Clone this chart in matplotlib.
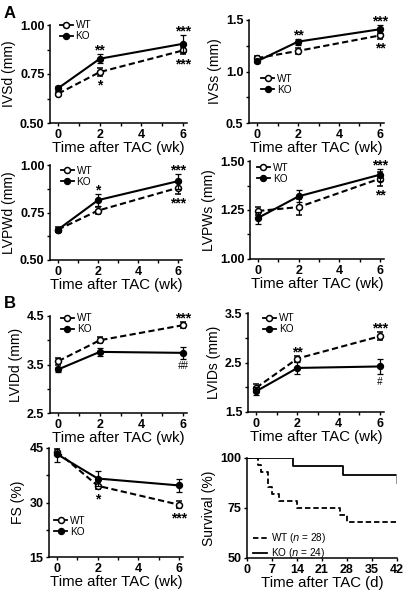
import numpy as np
import matplotlib
matplotlib.use("Agg")
import matplotlib.pyplot as plt
from matplotlib.ticker import MultipleLocator
from matplotlib.lines import Line2D

plt.rcParams['font.family'] = ['Liberation Sans', 'DejaVu Sans']
plt.rcParams['axes.linewidth'] = 1.1
plt.rcParams['xtick.major.width'] = 1.0
plt.rcParams['ytick.major.width'] = 1.0
plt.rcParams['xtick.minor.width'] = 1.0
plt.rcParams['ytick.minor.width'] = 1.0
plt.rcParams['xtick.major.size'] = 2.5
plt.rcParams['ytick.major.size'] = 2.5
plt.rcParams['xtick.minor.size'] = 2.0
plt.rcParams['ytick.minor.size'] = 2.0

# semanas despues de TAC
weeks = [0, 2, 6]

# valores (media) y error por parametro
ivsd_wt = [0.65, 0.76, 0.87]
ivsd_wt_err = [0.008, 0.02, 0.02]
ivsd_ko = [0.678, 0.828, 0.904]
ivsd_ko_err = [0.01, 0.023, 0.043]

ivss_wt = [1.13, 1.20, 1.35]
ivss_wt_err = [0.02, 0.03, 0.03]
ivss_ko = [1.10, 1.29, 1.41]
ivss_ko_err = [0.02, 0.03, 0.04]

lvpwd_wt = [0.66, 0.76, 0.88]
lvpwd_wt_err = [0.015, 0.02, 0.03]
lvpwd_ko = [0.66, 0.815, 0.915]
lvpwd_ko_err = [0.01, 0.03, 0.04]

lvpws_wt = [1.245, 1.265, 1.41]
lvpws_wt_err = [0.02, 0.04, 0.035]
lvpws_ko = [1.21, 1.32, 1.43]
lvpws_ko_err = [0.03, 0.03, 0.03]

lvidd_wt = [3.57, 4.00, 4.31]
lvidd_wt_err = [0.07, 0.06, 0.06]
lvidd_ko = [3.40, 3.76, 3.74]
lvidd_ko_err = [0.05, 0.08, 0.12]

lvids_wt = [1.99, 2.58, 3.03]
lvids_wt_err = [0.08, 0.06, 0.08]
lvids_ko = [1.92, 2.39, 2.42]
lvids_ko_err = [0.08, 0.12, 0.15]

fs_wt = [44.0, 34.6, 29.4]
fs_wt_err = [0.8, 1.0, 1.0]
fs_ko = [43.3, 36.6, 34.7]
fs_ko_err = [2.1, 2.0, 1.9]

# marcas de significancia: (semana, grupo, texto, arriba/abajo)
ivsd_sig = [(2, 'KO', '**', 'up'), (2, 'WT', '*', 'down'), (6, 'KO', '***', 'up'), (6, 'WT', '***', 'down')]
ivss_sig = [(2, 'KO', '**', 'up'), (6, 'KO', '***', 'up'), (6, 'WT', '**', 'down')]
lvpwd_sig = [(2, 'KO', '*', 'up'), (6, 'KO', '***', 'up'), (6, 'WT', '***', 'down')]
lvpws_sig = [(6, 'KO', '***', 'up'), (6, 'WT', '**', 'down')]
lvidd_sig = [(6, 'WT', '***', 'up'), (6, 'KO', '##', 'down')]
lvids_sig = [(2, 'WT', '**', 'up'), (6, 'WT', '***', 'up'), (6, 'KO', '#', 'down')]
fs_sig = [(2, 'WT', '*', 'down'), (6, 'WT', '***', 'down')]

# supervivencia (Kaplan-Meier, pasos)
surv_wt_days = [0, 3, 4, 6, 7, 9, 14, 26, 28, 42]
surv_wt = [100, 96.4, 92.9, 85.7, 82.1, 78.6, 75.0, 71.4, 67.9, 67.9]
surv_ko_days = [0, 13, 27, 42]
surv_ko = [100, 95.8, 91.7, 87.5]

fig = plt.figure(figsize=(4.05, 5.91), dpi=100)

TICK_FS = 9
YLAB_FS = 10
XLAB_FS = 10.8
LEG_FS = 7.2

WT_STYLE = dict(color='black', lw=1.5, linestyle=(0, (3, 1.6)), marker='o', ms=4.3,
                mfc='white', mec='black', mew=1.1)
KO_STYLE = dict(color='black', lw=1.5, linestyle='-', marker='o', ms=4.3,
                mfc='black', mec='black')


def px_axes(x0, y0, x1, y1):
    W, H = 405.0, 591.0
    return fig.add_axes([x0 / W, 1 - y1 / H, (x1 - x0) / W, (y1 - y0) / H])


def style_axes(ax):
    ax.spines['top'].set_visible(False)
    ax.spines['right'].set_visible(False)
    for lab in ax.get_xticklabels() + ax.get_yticklabels():
        lab.set_fontweight('bold')
        lab.set_fontsize(TICK_FS)
    ax.tick_params(axis='both', which='both', direction='out', pad=1.5)


def line_panel(ax, wt, wt_err, ko, ko_err, ylim, yticks, yfmt, ylabel, sig, leg_pos, ymin_step):
    ax.errorbar(weeks, wt, yerr=wt_err, capsize=2.2, elinewidth=0.9, capthick=0.9,
                ecolor='black', zorder=3, **WT_STYLE)
    ax.errorbar(weeks, ko, yerr=ko_err, capsize=2.2, elinewidth=0.9, capthick=0.9,
                ecolor='black', zorder=4, **KO_STYLE)
    ax.set_xlim(-0.4, 6.2)
    ax.set_ylim(*ylim)
    ax.set_xticks([0, 2, 4, 6])
    ax.xaxis.set_minor_locator(MultipleLocator(1))
    ax.set_yticks(yticks)
    ax.yaxis.set_minor_locator(MultipleLocator(ymin_step))
    ax.set_yticklabels([yfmt % v for v in yticks])
    ax.set_ylabel(ylabel, fontsize=YLAB_FS, labelpad=3)
    ax.set_xlabel('Time after TAC (wk)', fontsize=XLAB_FS, labelpad=0.5)
    style_axes(ax)
    for wk, grp, txt, where in sig:
        i = weeks.index(wk)
        if grp == 'WT':
            y, e = wt[i], wt_err[i]
        else:
            y, e = ko[i], ko_err[i]
        hash_mark = '#' in txt
        italic = 'italic' if hash_mark else 'normal'
        weight = 'normal' if hash_mark else 'bold'
        size = 7 if hash_mark else 10
        if where == 'up':
            ax.annotate(txt, (wk, y + e), xytext=(0, -2.5), textcoords='offset points',
                        ha='center', va='bottom', fontsize=size, fontweight=weight, style=italic)
        else:
            ax.annotate(txt, (wk, y - e), xytext=(0, -2.0), textcoords='offset points',
                        ha='center', va='top', fontsize=size, fontweight=weight, style=italic)
    handles = [Line2D([], [], **dict(WT_STYLE, linestyle='-', lw=1.3)),
               Line2D([], [], **dict(KO_STYLE, lw=1.3))]
    ax.legend(handles, ['WT', 'KO'], loc='upper left', bbox_to_anchor=leg_pos, frameon=False,
              fontsize=LEG_FS, handlelength=1.3, handletextpad=0.3, labelspacing=0.1,
              borderpad=0, borderaxespad=0)
    return ax


# A
ax1 = px_axes(50, 25, 187, 123)
line_panel(ax1, ivsd_wt, ivsd_wt_err, ivsd_ko, ivsd_ko_err, (0.5, 1.0), [0.50, 0.75, 1.00], '%.2f',
           'IVSd (mm)', ivsd_sig, (0.07, 1.05), 0.125)
ax2 = px_axes(249, 20, 384, 123)
line_panel(ax2, ivss_wt, ivss_wt_err, ivss_ko, ivss_ko_err, (0.5, 1.5), [0.5, 1.0, 1.5], '%.1f',
           'IVSs (mm)', ivss_sig, (0.09, 0.48), 0.25)
ax3 = px_axes(50, 165, 182, 260)
line_panel(ax3, lvpwd_wt, lvpwd_wt_err, lvpwd_ko, lvpwd_ko_err, (0.5, 1.0), [0.50, 0.75, 1.00], '%.2f',
           'LVPWd (mm)', lvpwd_sig, (0.08, 0.99), 0.125)
ax4 = px_axes(250, 161, 384, 259)
line_panel(ax4, lvpws_wt, lvpws_wt_err, lvpws_ko, lvpws_ko_err, (1.0, 1.5), [1.00, 1.25, 1.50], '%.2f',
           'LVPWs (mm)', lvpws_sig, (0.05, 0.98), 0.125)

# B
ax5 = px_axes(50, 316, 187, 413)
line_panel(ax5, lvidd_wt, lvidd_wt_err, lvidd_ko, lvidd_ko_err, (2.5, 4.5), [2.5, 3.5, 4.5], '%.1f',
           'LVIDd (mm)', lvidd_sig, (0.08, 1.03), 0.5)
ax6 = px_axes(248, 313, 384, 412)
line_panel(ax6, lvids_wt, lvids_wt_err, lvids_ko, lvids_ko_err, (1.5, 3.5), [1.5, 2.5, 3.5], '%.1f',
           'LVIDs (mm)', lvids_sig, (0.11, 1.0), 0.5)
ax7 = px_axes(49, 448, 183, 557)
line_panel(ax7, fs_wt, fs_wt_err, fs_ko, fs_ko_err, (15, 45), [15, 30, 45], '%d',
           'FS (%)', fs_sig, (0.04, 0.38), 7.5)

# supervivencia
ax8 = px_axes(247, 458, 397, 558)
ax8.step(surv_wt_days, surv_wt, where='post', color='black', lw=1.3, linestyle=(0, (3, 1.6)),
         label='WT ($\\it{n}$ = 28)')
ax8.step(surv_ko_days[:-1] + [surv_ko_days[-1]], surv_ko[:-1] + [surv_ko[-2]], where='post',
         color='black', lw=1.3, label='KO ($\\it{n}$ = 24)')
ax8.plot([surv_ko_days[-1], surv_ko_days[-1]], [surv_ko[-2], surv_ko[-1]], color='0.55', lw=1.3)
ax8.set_xlim(0, 42)
ax8.set_ylim(50, 100)
ax8.set_xticks([0, 7, 14, 21, 28, 35, 42])
ax8.set_yticks([50, 75, 100])
ax8.set_ylabel('Survival (%)', fontsize=YLAB_FS, labelpad=3)
ax8.set_xlabel('Time after TAC (d)', fontsize=XLAB_FS, labelpad=0.5)
style_axes(ax8)
ax8.legend(loc='upper left', bbox_to_anchor=(0.04, 0.27), frameon=False, fontsize=LEG_FS,
           handlelength=1.4, handletextpad=0.4, labelspacing=0.1, borderpad=0, borderaxespad=0)

fig.text(4 / 405, 1 - 18 / 591, 'A', fontsize=12, fontweight='bold', ha='left', va='baseline')
fig.text(4 / 405, 1 - 308 / 591, 'B', fontsize=12, fontweight='bold', ha='left', va='baseline')

fig.savefig('out.png', dpi=100)
